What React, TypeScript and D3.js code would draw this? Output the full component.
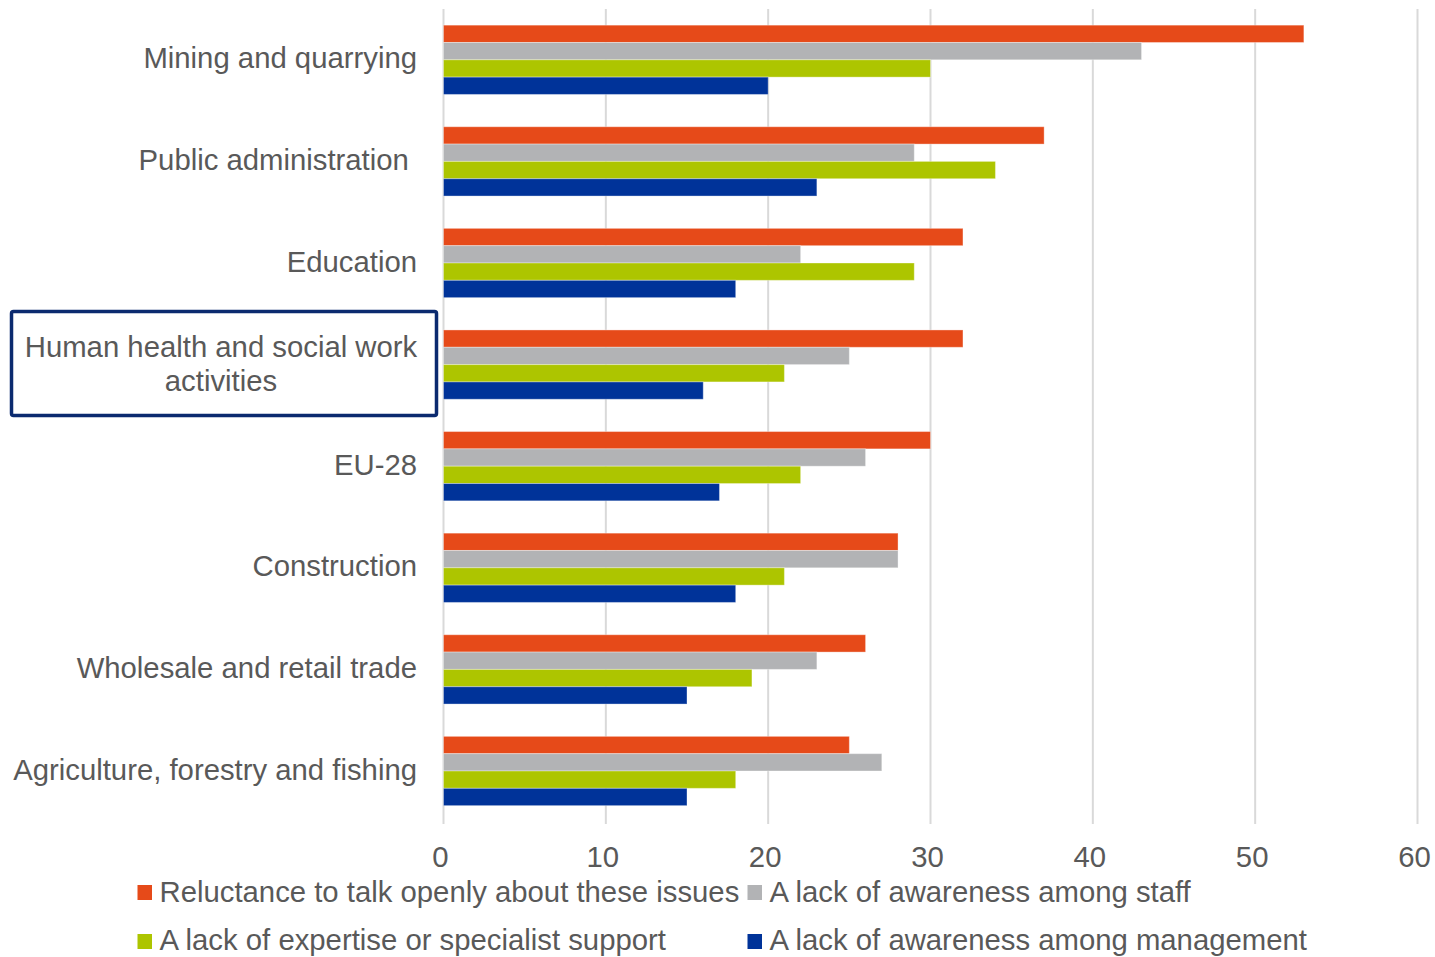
import React from "react";
import * as d3 from "d3";

const categories = [
  "Mining and quarrying",
  "Public administration ",
  "Education",
  "Human health and social work activities",
  "EU-28",
  "Construction",
  "Wholesale and retail trade",
  "Agriculture, forestry and fishing",
];
const seriesNames = [
  "Reluctance to talk openly about these issues",
  "A lack of awareness among staff",
  "A lack of expertise or specialist support",
  "A lack of awareness among management",
];
const reluctance = [53, 37, 32, 32, 30, 28, 26, 25];
const awarenessStaff = [43, 29, 22, 25, 26, 28, 23, 27];
const expertise = [30, 34, 29, 21, 22, 21, 19, 18];
const awarenessMgmt = [20, 23, 18, 16, 17, 18, 15, 15];
const xTicks = [0, 10, 20, 30, 40, 50, 60];
const colors = ["#E64A19", "#B2B3B5", "#ADC500", "#003399"];

const W = 1435;
const H = 957;
const left = 443.5;
const right = 1417.5;
const top = 9;
const bandBottom = 821.8;
const gridBottom = 824;
const font = "'Liberation Sans', Arial, sans-serif";
const fs = 29.3;
const textColor = "#595959";

export default function App() {
  const series = [reluctance, awarenessStaff, expertise, awarenessMgmt];
  const x = d3.scaleLinear().domain([0, 60]).range([left, right]);
  const y = d3
    .scaleBand<string>()
    .domain(categories)
    .range([top, bandBottom])
    .paddingInner(0.318)
    .paddingOuter(0.159);
  const inner = d3
    .scaleBand<number>()
    .domain([0, 1, 2, 3])
    .range([0, y.bandwidth()]);

  const legendItems = [
    { i: 0, x: 137.5, y: 892.5, base: 901.7 },
    { i: 1, x: 747.5, y: 892.5, base: 901.7 },
    { i: 2, x: 137.5, y: 941.5, base: 950 },
    { i: 3, x: 747.5, y: 941.5, base: 950 },
  ];

  return (
    <svg
      width={W}
      height={H}
      style={{ position: "absolute", left: 0, top: 0, background: "#fff" }}
    >
      {xTicks.map((t) => (
        <line
          key={"g" + t}
          x1={x(t)}
          x2={x(t)}
          y1={top}
          y2={gridBottom}
          stroke="#D9D9D9"
          strokeWidth={2}
        />
      ))}
      {categories.map((c, ci) =>
        series.map((s, si) => (
          <rect
            key={c + si}
            x={x(0)}
            y={(y(c) as number) + (inner(si) as number)}
            width={x(s[ci]) - x(0)}
            height={inner.bandwidth()}
            fill={colors[si]}
            stroke="#ffffff"
            strokeOpacity={0.35}
            strokeWidth={1}
          />
        ))
      )}
      {categories.map((c) => {
        const cy = (y(c) as number) + y.bandwidth() / 2;
        if (c.startsWith("Human health")) {
          return (
            <g key={"l" + c}>
              <rect
                x={11.5}
                y={311.5}
                width={425}
                height={104}
                rx={2}
                fill="none"
                stroke="#0B2A6F"
                strokeWidth={3.5}
              />
              <text
                x={221}
                y={cy - 17 + 9}
                textAnchor="middle"
                fontFamily={font}
                fontSize={fs}
                fill={textColor}
              >
                Human health and social work
              </text>
              <text
                x={221}
                y={cy + 17 + 9}
                textAnchor="middle"
                fontFamily={font}
                fontSize={fs}
                fill={textColor}
              >
                activities
              </text>
            </g>
          );
        }
        return (
          <text
            key={"l" + c}
            x={417}
            y={cy + 8.5}
            textAnchor="end"
            fontFamily={font}
            fontSize={fs}
            fill={textColor}
            style={{ whiteSpace: "pre" }}
          >
            {c}
          </text>
        );
      })}
      {xTicks.map((t) => (
        <text
          key={"t" + t}
          x={x(t) - 3}
          y={866.5}
          textAnchor="middle"
          fontFamily={font}
          fontSize={fs}
          fill={textColor}
        >
          {t}
        </text>
      ))}
      {legendItems.map((it) => (
        <g key={"lg" + it.i}>
          <rect
            x={it.x}
            y={it.y - 7.5}
            width={14.5}
            height={15}
            fill={colors[it.i]}
          />
          <text
            x={it.x + 22}
            y={it.base}
            fontFamily={font}
            fontSize={fs}
            fill={textColor}
          >
            {seriesNames[it.i]}
          </text>
        </g>
      ))}
    </svg>
  );
}
